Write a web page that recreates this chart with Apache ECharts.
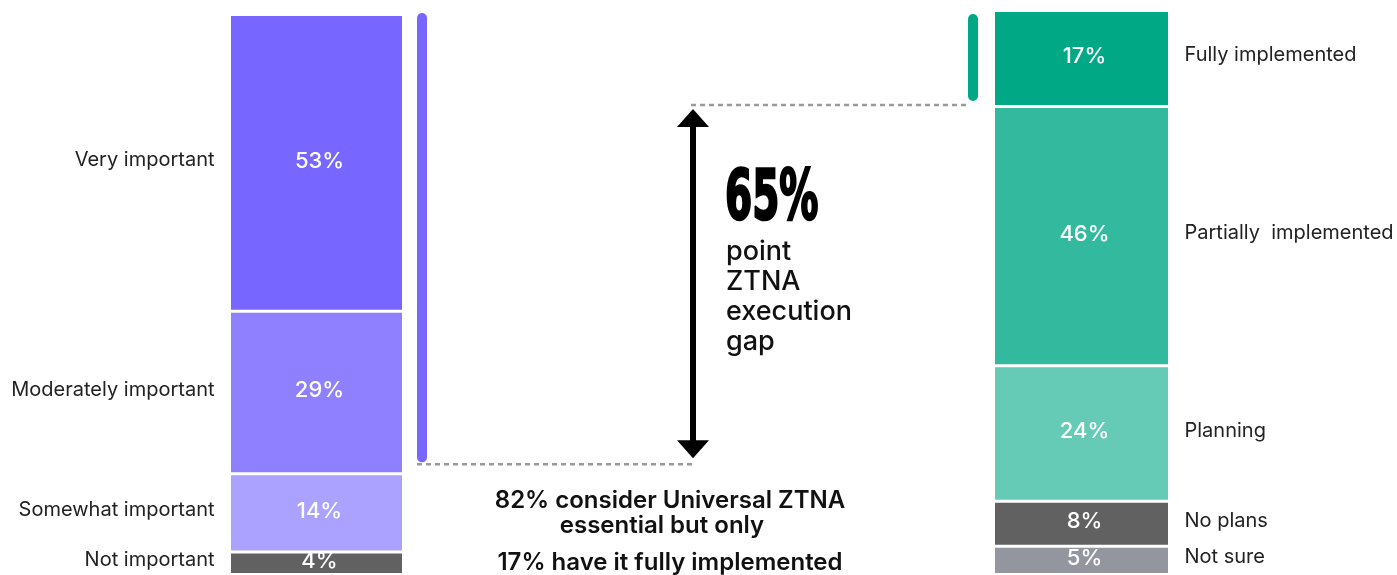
<!DOCTYPE html>
<html>
<head>
<meta charset="utf-8">
<script src="https://cdn.jsdelivr.net/npm/echarts@6/dist/echarts.min.js"></script>
<style>
  html, body { margin: 0; padding: 0; background: #ffffff; }
  #chart { width: 1397px; height: 575px; }
</style>
</head>
<body>
<div id="chart"></div>
<script>
// Importance of Universal ZTNA (left column)
const importanceLabels = ['Very important', 'Moderately important', 'Somewhat important', 'Not important'];
const importanceValues = [53, 29, 14, 4];
const importanceColors = ['#7766FF', '#8F80FF', '#ABA1FF', '#616161'];

// Implementation status (right column)
const statusLabels = ['Fully implemented', 'Partially  implemented', 'Planning', 'No plans', 'Not sure'];
const statusValues = [17, 46, 24, 8, 5];
const statusColors = ['#00A886', '#33BA9E', '#66CBB6', '#616161', '#93969E'];

// Summary figures
const essentialShare = importanceValues[0] + importanceValues[1]; // 82
const fullyShare = statusValues[0];                               // 17
const gapPoints = essentialShare - fullyShare;                    // 65

const FONT = 'Inter, "Noto Sans", sans-serif';
const chart = echarts.init(document.getElementById('chart'), null, { renderer: 'canvas' });

function hiddenCategory(gridIndex) {
  return { type: 'category', gridIndex, data: ['all'], show: false };
}
function hiddenValue(gridIndex) {
  return { type: 'value', gridIndex, inverse: true, min: 0, max: 100, show: false };
}

// One stacked column: visible segments plus a transparent twin stack carrying the category names
function column(labels, values, colors, axisIndex, stackId, width, namePos) {
  const out = [];
  values.forEach((v, i) => {
    out.push({
      type: 'bar', name: labels[i], xAxisIndex: axisIndex, yAxisIndex: axisIndex,
      stack: stackId, barWidth: width, data: [v],
      itemStyle: { color: colors[i], borderColor: '#ffffff', borderWidth: 1.5 },
      label: {
        show: true, position: 'inside', formatter: '{c}%', offset: [3, -2],
        color: '#ffffff', fontFamily: FONT, fontSize: 22, fontWeight: 500
      },
      emphasis: { disabled: true }, silent: true
    });
  });
  values.forEach((v, i) => {
    out.push({
      type: 'bar', name: labels[i] + ' label', xAxisIndex: axisIndex, yAxisIndex: axisIndex,
      stack: stackId + 'Names', barWidth: width, barGap: '-100%', data: [v],
      itemStyle: { color: 'rgba(0,0,0,0)' },
      label: {
        show: true, position: namePos, distance: 15, formatter: labels[i], offset: [0, -3],
        color: '#222222', fontFamily: FONT, fontSize: 20, fontWeight: 400
      },
      emphasis: { disabled: true }, silent: true
    });
  });
  return out;
}

function indicator(value, color, axisIndex) {
  return {
    type: 'bar', xAxisIndex: axisIndex, yAxisIndex: axisIndex, barWidth: 10, data: [value],
    itemStyle: { color, borderRadius: 5 }, silent: true, emphasis: { disabled: true }
  };
}

chart.setOption({
  animation: false,
  backgroundColor: '#ffffff',
  grid: [
    { left: 229.5, width: 174, top: 14.5, height: 560 },  // importance column
    { left: 993.5, width: 176, top: 10.5, height: 564 },  // status column
    { left: 417, width: 10, top: 13, height: 548 },       // 82% indicator
    { left: 968, width: 10, top: 14, height: 512 }        // 17% indicator
  ],
  xAxis: [hiddenCategory(0), hiddenCategory(1), hiddenCategory(2), hiddenCategory(3)],
  yAxis: [hiddenValue(0), hiddenValue(1), hiddenValue(2), hiddenValue(3)],
  series: [
    ...column(importanceLabels, importanceValues, importanceColors, 0, 'importance', 174, 'left'),
    ...column(statusLabels, statusValues, statusColors, 1, 'status', 176, 'right'),
    indicator(essentialShare, importanceColors[0], 2),
    indicator(fullyShare, statusColors[0], 3)
  ]
});

// Connector lines and the gap arrow, placed from the indicator scales
const essentialY = chart.convertToPixel({ yAxisIndex: 2 }, essentialShare);
const fullyY = chart.convertToPixel({ yAxisIndex: 3 }, fullyShare);
const essentialX = chart.convertToPixel({ xAxisIndex: 2 }, 0);
const fullyX = chart.convertToPixel({ xAxisIndex: 3 }, 0);
const arrowX = 693;
const lowLine = essentialY + 2;
const highLine = fullyY + 4;
const dash = { stroke: '#9a9a9a', lineWidth: 2.5, lineDash: [5, 4] };

chart.setOption({
  graphic: [
    { type: 'line', shape: { x1: essentialX - 5, y1: lowLine, x2: arrowX + 2, y2: lowLine }, style: dash, silent: true },
    { type: 'line', shape: { x1: arrowX - 2, y1: highLine, x2: fullyX - 3, y2: highLine }, style: dash, silent: true },
    { type: 'line', shape: { x1: arrowX, y1: highLine + 18, x2: arrowX, y2: lowLine - 18 },
      style: { stroke: '#000000', lineWidth: 6 }, silent: true },
    { type: 'polygon', shape: { points: [[arrowX, highLine + 4], [arrowX - 16, highLine + 22], [arrowX + 16, highLine + 22]] },
      style: { fill: '#000000' }, silent: true },
    { type: 'polygon', shape: { points: [[arrowX, lowLine - 6], [arrowX - 16, lowLine - 24], [arrowX + 16, lowLine - 24]] },
      style: { fill: '#000000' }, silent: true },
    { type: 'text', x: 725, y: 201, scaleX: 0.62,
      style: { text: gapPoints + '%', font: 'bold 70px "Liberation Sans Narrow", "DejaVu Sans Condensed", sans-serif',
               fill: '#000000', stroke: '#000000', lineWidth: 2.5, verticalAlign: 'middle' }, silent: true },
    { type: 'text', x: 726, y: 237,
      style: { text: 'point\nZTNA\nexecution\ngap', font: '500 27px ' + FONT, lineHeight: 30, fill: '#111111' }, silent: true },
    { type: 'text', x: 670, y: 501,
      style: { text: essentialShare + '% consider Universal ZTNA', font: '600 24px ' + FONT, fill: '#111111',
               align: 'center', verticalAlign: 'middle' }, silent: true },
    { type: 'text', x: 662, y: 526,
      style: { text: 'essential but only', font: '600 24px ' + FONT, fill: '#111111',
               align: 'center', verticalAlign: 'middle' }, silent: true },
    { type: 'text', x: 670, y: 563,
      style: { text: fullyShare + '% have it fully implemented', font: '600 24px ' + FONT, fill: '#111111',
               align: 'center', verticalAlign: 'middle' }, silent: true }
  ]
});
</script>
</body>
</html>
